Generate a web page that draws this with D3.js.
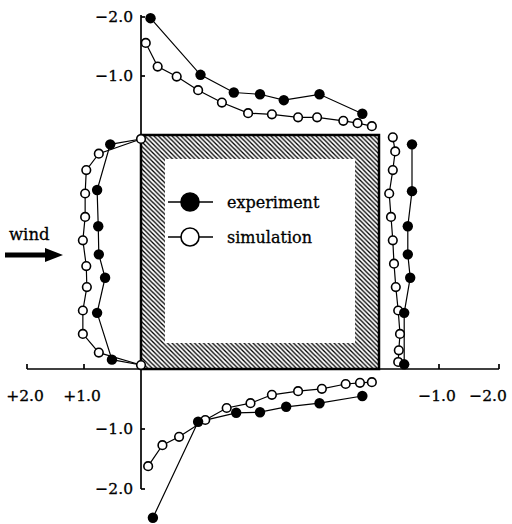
<!DOCTYPE html>
<html>
<head>
<meta charset="utf-8">
<script src="https://cdn.jsdelivr.net/npm/d3@7"></script>
<style>
body{margin:0;background:#fff;}
text{font-family:"DejaVu Serif","Liberation Serif",serif;fill:#000;}
</style>
</head>
<body>
<svg id="chart" width="512" height="524"></svg>
<script>
// Cp around a square block, [position along face 0..1, Cp]
var topExp = [[0.04,-1.98],[0.25,-1.02],[0.39,-0.72],[0.50,-0.69],[0.60,-0.59],[0.75,-0.69],[0.93,-0.36]];
var topSim = [[0.02,-1.56],[0.07,-1.16],[0.15,-0.99],[0.24,-0.76],[0.34,-0.55],[0.45,-0.37],[0.55,-0.35],[0.66,-0.30],[0.74,-0.30],[0.85,-0.24],[0.91,-0.20],[0.97,-0.15]];
var leftExp = [[0.04,0.54],[0.235,0.77],[0.39,0.75],[0.51,0.74],[0.61,0.63],[0.76,0.77],[0.96,0.51]];
var leftSim = [[0.017,0],[0.08,0.74],[0.15,0.96],[0.25,0.98],[0.35,0.98],[0.45,1.02],[0.56,0.96],[0.65,0.95],[0.75,1.02],[0.85,1.02],[0.93,0.74],[0.983,0]];
var rightExp = [[0.04,-0.55],[0.24,-0.55],[0.39,-0.48],[0.51,-0.48],[0.61,-0.52],[0.76,-0.42],[0.98,-0.42]];
var rightSim = [[0.01,-0.23],[0.07,-0.27],[0.15,-0.23],[0.25,-0.17],[0.35,-0.20],[0.45,-0.23],[0.55,-0.25],[0.65,-0.28],[0.75,-0.32],[0.85,-0.35],[0.92,-0.33],[0.97,-0.32]];
var bottomExp = [[0.05,-2.48],[0.24,-0.88],[0.40,-0.73],[0.50,-0.72],[0.61,-0.63],[0.75,-0.57],[0.93,-0.45]];
var bottomSim = [[0.03,-1.62],[0.09,-1.27],[0.16,-1.13],[0.27,-0.85],[0.36,-0.65],[0.46,-0.57],[0.55,-0.43],[0.66,-0.37],[0.76,-0.33],[0.86,-0.25],[0.92,-0.23],[0.97,-0.22]];

var leftTicks = [2, 1];
var rightTicks = [-1, -2];
var vertTicks = [-1, -2];
var legendLabels = ["experiment", "simulation"];
var windLabel = "wind";

var fmt = function(d){ return (d > 0 ? "+" : "\u2212") + Math.abs(d).toFixed(1); };

var svg = d3.select("#chart");
var x0 = 141, x1 = 379, y0 = 135, y1 = 369, hatchW = 24;

var alongX = d3.scaleLinear().domain([0,1]).range([x0,x1]),
	alongY = d3.scaleLinear().domain([0,1]).range([y0,y1]),
	cpTop = d3.scaleLinear().domain([0,-2]).range([y0,17]),
	cpBottom = d3.scaleLinear().domain([0,-2]).range([y1,489]),
	cpLeft = d3.scaleLinear().domain([0,2]).range([x0,27]),
	cpRight = d3.scaleLinear().domain([0,-2]).range([x1,499]);

// hatched building
var defs = svg.append("defs");
defs.append("pattern").attr("id","hatch")
	.attr("patternUnits","userSpaceOnUse").attr("width",4.5).attr("height",4.5)
	.append("path").attr("d","M-1,-1L5.5,5.5M-1,3.5L1,5.5M3.5,-1L5.5,1")
	.attr("stroke","#000").attr("stroke-width",1.3);
svg.append("rect").attr("x",x0).attr("y",y0).attr("width",x1-x0).attr("height",y1-y0)
	.attr("fill","url(#hatch)");
svg.append("rect").attr("x",x0+hatchW).attr("y",y0+hatchW)
	.attr("width",x1-x0-2*hatchW).attr("height",y1-y0-2*hatchW-2).attr("fill","#fff");
svg.append("rect").attr("x",x0).attr("y",y0).attr("width",x1-x0).attr("height",y1-y0)
	.attr("fill","none").attr("stroke","#000").attr("stroke-width",2.5);

// axes
var ax = svg.append("g").attr("stroke","#000").attr("stroke-width",1.7);
ax.append("line").attr("x1",x0).attr("x2",x0).attr("y1",cpTop(-2)-2).attr("y2",cpBottom(-2));
ax.append("line").attr("x1",cpLeft(2)).attr("x2",cpRight(-2)).attr("y1",y1).attr("y2",y1);
leftTicks.forEach(function(t){
	ax.append("line").attr("x1",cpLeft(t)).attr("x2",cpLeft(t)).attr("y1",y1).attr("y2",y1-5);
});
rightTicks.forEach(function(t){
	ax.append("line").attr("x1",cpRight(t)).attr("x2",cpRight(t)).attr("y1",y1).attr("y2",y1-5);
});
vertTicks.forEach(function(t){
	ax.append("line").attr("x1",x0).attr("x2",x0+4).attr("y1",cpTop(t)).attr("y2",cpTop(t));
	ax.append("line").attr("x1",x0).attr("x2",x0+4).attr("y1",cpBottom(t)).attr("y2",cpBottom(t));
});

var lab = svg.append("g").attr("font-size",15.5).attr("stroke","#000").attr("stroke-width",0.3);
leftTicks.forEach(function(t){
	lab.append("text").attr("x",cpLeft(t)-2).attr("y",401).attr("text-anchor","middle").text(fmt(t));
});
rightTicks.forEach(function(t){
	lab.append("text").attr("x",Math.min(cpRight(t)-2,488)).attr("y",401).attr("text-anchor","middle").text(fmt(t));
});
vertTicks.forEach(function(t){
	lab.append("text").attr("x",133).attr("y",cpTop(t)+5).attr("text-anchor","end").text(fmt(t));
	lab.append("text").attr("x",133).attr("y",cpBottom(t)+5).attr("text-anchor","end").text(fmt(t));
});

// profiles
var faces = [
	{exp: topExp, sim: topSim, x: function(d){return alongX(d[0]);}, y: function(d){return cpTop(d[1]);}},
	{exp: bottomExp, sim: bottomSim, x: function(d){return alongX(d[0]);}, y: function(d){return cpBottom(d[1]);}},
	{exp: leftExp, sim: leftSim, x: function(d){return cpLeft(d[1]);}, y: function(d){return alongY(d[0]);}, corners: true},
	{exp: rightExp, sim: rightSim, x: function(d){return cpRight(d[1]);}, y: function(d){return alongY(d[0]);}}
];
var lines = svg.append("g"), marks = svg.append("g");
faces.forEach(function(f){
	var line = d3.line().x(f.x).y(f.y);
	// on the windward face the measured curve closes onto the corner points
	var expLine = f.corners ? [f.sim[0]].concat(f.exp, [f.sim[f.sim.length-1]]) : f.exp;
	lines.append("path").attr("d",line(f.sim)).attr("fill","none").attr("stroke","#000").attr("stroke-width",1.2);
	lines.append("path").attr("d",line(expLine)).attr("fill","none").attr("stroke","#000").attr("stroke-width",1.2);
	marks.selectAll(null).data(f.sim).enter().append("circle")
		.attr("cx",f.x).attr("cy",f.y).attr("r",4.3)
		.attr("fill","#fff").attr("stroke","#000").attr("stroke-width",1.6);
	marks.selectAll(null).data(f.exp).enter().append("circle")
		.attr("cx",f.x).attr("cy",f.y).attr("r",5.2).attr("fill","#000");
});

// legend
var leg = svg.append("g");
legendLabels.forEach(function(name,i){
	var ly = 202 + i*35;
	leg.append("line").attr("x1",168).attr("x2",213).attr("y1",ly).attr("y2",ly)
		.attr("stroke","#000").attr("stroke-width",1.4);
	leg.append("circle").attr("cx",190).attr("cy",ly).attr("r",9)
		.attr("fill",i==0?"#000":"#fff").attr("stroke","#000").attr("stroke-width",1.6);
	leg.append("text").attr("x",227).attr("y",ly+6).attr("font-size",16)
		.attr("stroke","#000").attr("stroke-width",0.3).text(name);
});

// wind arrow
svg.append("text").attr("x",9).attr("y",240).attr("font-size",16.5)
	.attr("stroke","#000").attr("stroke-width",0.3).text(windLabel);
svg.append("path").attr("d","M5,252.5L45,252.5L45,248L63,255L45,262L45,257.5L5,257.5Z").attr("fill","#000");
</script>
</body>
</html>
